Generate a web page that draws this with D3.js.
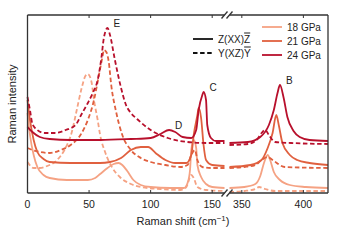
<!DOCTYPE html>
<html>
<head>
<meta charset="utf-8">
<script src="https://cdn.jsdelivr.net/npm/d3@7"></script>
<style>
  body { margin: 0; background: #fff; }
  text { font-family: "Liberation Sans", Arial, sans-serif; fill: #222; }
</style>
</head>
<body>
<svg id="chart" width="340" height="240"></svg>
<script>
// Raman spectra, intensity in arbitrary units, [shift, intensity]
const zxx18 = [[0,80],[2,58],[5,38],[8,26],[13,18],[18,15],[32,13],[49,13],[55,15],[59,19],[65,25],[70,29],[74,30],[77,28],[81,22],[86,13],[92,8],[100,6],[116,5],[127,5],[130,10],[132,23],[133,43],[135,53],[137,45],[138,28],[141,16],[145,9],[150,6],[160,5],
  [340,5],[352,6],[361,9],[365,17],[368,30],[371,38],[373,33],[376,21],[381,13],[389,8],[402,6],[420,5]];
const yxz18 = [[0,31],[5,25],[10,25],[16,27],[24,33],[30,43],[36,61],[40,83],[44,105],[47,117],[49,119],[52,111],[54,93],[57,73],[59,58],[63,41],[69,25],[75,16],[84,9],[92,6],[108,4],[124,3],[129,6],[133,18],[135,15],[138,6],[145,3],[160,2],
  [340,1],[352,2],[361,4],[364,6],[369,4],[377,2],[420,2]];
const zxx21 = [[0,93],[2,73],[5,53],[8,41],[13,34],[18,31],[35,30],[59,30],[67,31],[76,35],[84,43],[92,46],[98,46],[104,40],[112,33],[120,30],[129,30],[133,38],[135,58],[138,78],[139,85],[141,75],[143,48],[145,33],[150,28],[160,27],
  [340,26],[357,28],[366,33],[371,45],[375,60],[378,78],[380,68],[383,50],[389,38],[395,33],[405,30],[420,28]];
const yxz21 = [[0,45],[4,43],[10,41],[18,40],[27,43],[35,48],[43,58],[49,73],[54,93],[58,118],[61,137],[62,143],[64,141],[66,131],[68,108],[72,81],[77,58],[84,43],[92,35],[100,31],[112,28],[124,26],[130,28],[133,38],[136,43],[138,33],[142,26],[149,25],[160,25],
  [340,25],[352,26],[361,28],[366,33],[371,36],[375,33],[385,26],[420,25]];
const zxx24 = [[0,66],[4,61],[10,56],[18,54],[35,53],[59,53],[84,54],[100,55],[108,59],[115,63],[120,61],[126,56],[133,55],[137,63],[139,83],[142,98],[143,101],[145,93],[146,68],[149,55],[153,52],[160,52],
  [340,50],[355,51],[365,56],[372,68],[376,83],[379,100],[381,108],[384,95],[387,76],[392,62],[397,56],[405,53],[420,52]];
const yxz24 = [[0,96],[2,83],[4,69],[8,63],[14,60],[22,60],[31,63],[39,68],[44,79],[49,90],[53,100],[57,113],[60,135],[62,155],[65,165],[67,158],[71,133],[76,105],[80,88],[84,80],[89,74],[100,63],[114,55],[130,51],[145,50],[160,50],
  [340,48],[355,49],[362,53],[366,60],[369,63],[372,58],[377,51],[390,50],[420,49]];

const pressures = ["18 GPa", "21 GPa", "24 GPa"];
const colors = ["#f5a283", "#e0603f", "#b8102c"];
const polarizations = ["Z(XX)", "Y(XZ)"];
const polarBars = ["Z", "Y"];
const leftTicks = [0, 50, 100, 150];
const rightTicks = [350, 400];
const peakLabels = [["E", 65, 165], ["D", 115, 63], ["C", 143, 101], ["B", 381, 108]];

const series = [
  {data: yxz18, c: 0, dash: true}, {data: zxx18, c: 0, dash: false},
  {data: yxz21, c: 1, dash: true}, {data: zxx21, c: 1, dash: false},
  {data: yxz24, c: 2, dash: true}, {data: zxx24, c: 2, dash: false}
];

const svg = d3.select("#chart");
const plotTop = 15, plotBottom = 193;
const xL = d3.scaleLinear().domain([0, 160]).range([27.5, 224.5]);
const xR = d3.scaleLinear().domain([340, 420]).range([229.5, 328]);
const y = d3.scaleLinear().domain([0, 178]).range([plotBottom, plotTop]);

const lineL = d3.line().x(d => xL(d[0])).y(d => y(d[1])).curve(d3.curveMonotoneX);
const lineR = d3.line().x(d => xR(d[0])).y(d => y(d[1])).curve(d3.curveMonotoneX);

const curves = svg.append("g");
series.forEach(s => {
  [[s.data.filter(d => d[0] < 200), lineL], [s.data.filter(d => d[0] > 200), lineR]].forEach(([pts, ln]) => {
    curves.append("path")
      .attr("d", ln(pts))
      .attr("fill", "none")
      .attr("stroke", colors[s.c])
      .attr("stroke-width", 1.8)
      .attr("stroke-dasharray", s.dash ? "4.5,2.6" : null);
  });
});

// frame
const frameColor = "#333";
const frame = svg.append("g").attr("stroke", frameColor).attr("fill", "none").attr("stroke-width", 1.3);
frame.append("line").attr("x1", 27.5).attr("x2", 27.5).attr("y1", plotTop).attr("y2", plotBottom);
frame.append("line").attr("x1", 328).attr("x2", 328).attr("y1", plotTop).attr("y2", plotBottom);
[plotTop, plotBottom].forEach(yy => {
  frame.append("line").attr("x1", 27.5).attr("x2", xL.range()[1]).attr("y1", yy).attr("y2", yy);
  frame.append("line").attr("x1", xR.range()[0]).attr("x2", 328).attr("y1", yy).attr("y2", yy);
  // break marks
  [xL.range()[1], xR.range()[0]].forEach(bx => {
    frame.append("line").attr("x1", bx - 3).attr("x2", bx + 3).attr("y1", yy + 3.5).attr("y2", yy - 3.5);
  });
});

// ticks, inward on top and bottom
const tickG = svg.append("g").attr("stroke", frameColor).attr("stroke-width", 1);
const tickPos = leftTicks.map(t => xL(t)).concat(rightTicks.map(t => xR(t)));
tickPos.forEach(px => {
  tickG.append("line").attr("x1", px).attr("x2", px).attr("y1", plotBottom).attr("y2", plotBottom - 3);
  tickG.append("line").attr("x1", px).attr("x2", px).attr("y1", plotTop).attr("y2", plotTop + 3);
});
leftTicks.map(t => [t, xL(t)]).concat(rightTicks.map(t => [t, xR(t)])).forEach(([t, px]) => {
  svg.append("text").attr("x", px).attr("y", 208).attr("text-anchor", "middle")
    .attr("font-size", 10.5).text(t);
});

// axis titles
const xt = svg.append("text").attr("x", 183).attr("y", 225).attr("text-anchor", "middle").attr("font-size", 11);
xt.append("tspan").text("Raman shift (cm");
xt.append("tspan").attr("dy", -4.5).attr("font-size", 8).text("\u22121");
xt.append("tspan").attr("dy", 4.5).text(")");
svg.append("text").attr("transform", "translate(16,104) rotate(-90)").attr("text-anchor", "middle")
  .attr("font-size", 11).text("Raman intensity");

// peak labels
peakLabels.forEach(([lab, sx, v]) => {
  const px = sx > 200 ? xR(sx) : xL(sx);
  svg.append("text").attr("x", px + 6).attr("y", y(v) - 1).attr("font-size", 10).attr("fill", "#333").text(lab);
});

// legend: polarization
polarizations.forEach((p, i) => {
  const ly = 39 + i * 14;
  svg.append("line").attr("x1", 193).attr("x2", 213).attr("y1", ly).attr("y2", ly)
    .attr("stroke", "#111").attr("stroke-width", 1.8).attr("stroke-dasharray", i ? "4.5,2.6" : null);
  const t = svg.append("text").attr("x", 218).attr("y", ly + 3.5).attr("font-size", 10);
  t.append("tspan").text(p);
  t.append("tspan").style("text-decoration", "overline").text(polarBars[i]);
});
// legend: pressure
pressures.forEach((p, i) => {
  const ly = 27 + i * 14;
  svg.append("line").attr("x1", 262).attr("x2", 282).attr("y1", ly).attr("y2", ly)
    .attr("stroke", colors[i]).attr("stroke-width", 1.8);
  svg.append("text").attr("x", 287).attr("y", ly + 3.5).attr("font-size", 10).text(p);
});
</script>
</body>
</html>
